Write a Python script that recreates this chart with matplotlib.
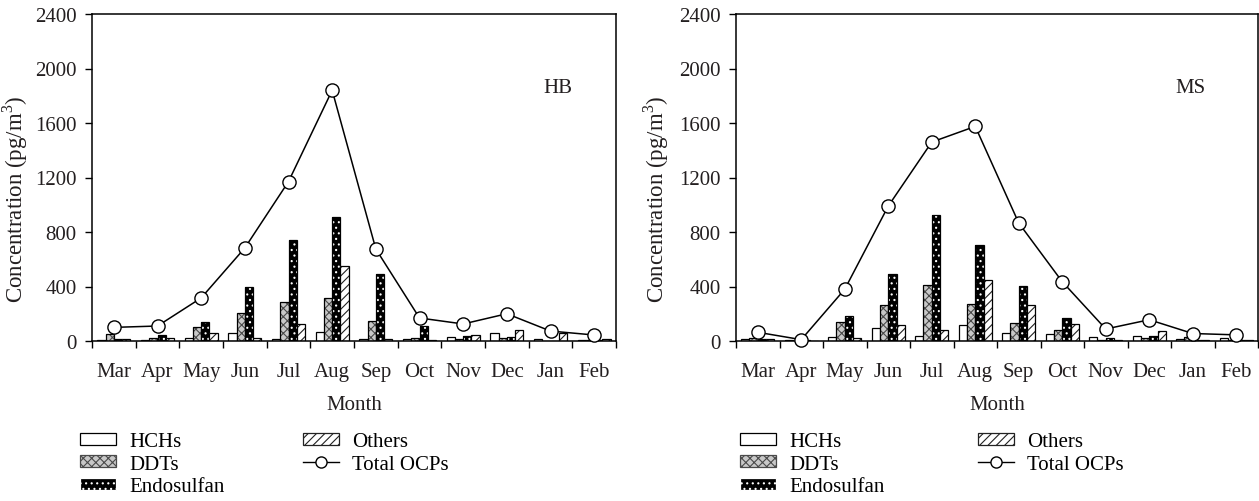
import matplotlib
matplotlib.use("Agg")
import matplotlib.pyplot as plt
from matplotlib.patches import Patch
from matplotlib.lines import Line2D
import numpy as np

plt.rcParams['font.family'] = ['Liberation Serif', 'DejaVu Serif']
plt.rcParams['mathtext.fontset'] = 'custom'
plt.rcParams['mathtext.rm'] = 'Liberation Serif'
plt.rcParams['hatch.linewidth'] = 0.8

months = ['Mar', 'Apr', 'May', 'Jun', 'Jul', 'Aug', 'Sep', 'Oct', 'Nov', 'Dec', 'Jan', 'Feb']

# HB site (pg/m3)
hb_hch = [10, 8, 24, 56, 17, 65, 17, 12, 27, 59, 17, 8]
hb_ddt = [51, 25, 100, 208, 287, 316, 145, 25, 12, 25, 3, 5]
hb_endo = [18, 44, 137, 395, 741, 910, 490, 112, 39, 30, 3, 5]
hb_others = [15, 25, 56, 20, 123, 550, 15, 8, 44, 83, 56, 16]
hb_total = [100, 110, 316, 683, 1170, 1840, 675, 169, 125, 200, 73, 44]

# MS site (pg/m3)
ms_hch = [15, 5, 32, 95, 35, 117, 60, 55, 30, 35, 15, 25]
ms_ddt = [20, 2, 140, 266, 408, 272, 130, 80, 10, 25, 30, 10]
ms_endo = [12, 10, 186, 492, 925, 705, 405, 168, 20, 40, 5, 5]
ms_others = [12, 2, 25, 115, 83, 450, 262, 125, 10, 70, 10, 10]
ms_total = [64, 10, 380, 990, 1460, 1575, 866, 435, 88, 156, 55, 45]

yticks = [0, 400, 800, 1200, 1600, 2000, 2400]
series_names = ['HCHs', 'DDTs', 'Endosulfan', 'Others']

W, H = 1259, 502
fig = plt.figure(figsize=(W / 100, H / 100), dpi=100)

FS = 15
TXT = '#231f20'
BW = 0.19

STYLES = {
    'HCHs': dict(facecolor='white', edgecolor='black', hatch=None),
    'DDTs': dict(facecolor='#c8c8c8', edgecolor='#4a4a4a', hatch='xxxx'),
    'Endosulfan': dict(facecolor='black', edgecolor='white', hatch='...'),
    'Others': dict(facecolor='white', edgecolor='#222222', hatch='////'),
}


def styled_bar(ax, x, h, kind):
    st = STYLES[kind]
    ax.bar(x, h, BW, facecolor=st['facecolor'], edgecolor=st['edgecolor'],
           hatch=st['hatch'], linewidth=0)
    ax.bar(x, h, BW, fill=False, edgecolor='black', linewidth=0.9)


def patch_handle(kind):
    st = STYLES[kind]
    return Patch(facecolor=st['facecolor'], edgecolor=st['edgecolor'], hatch=st['hatch'],
                 linewidth=0.9)


def add_legends(x_left, x_right, y_top):
    common = dict(loc='upper left', frameon=False, fontsize=FS, handlelength=1.75,
                  handleheight=0.5, handletextpad=0.6, labelspacing=0.17,
                  borderaxespad=0, borderpad=0)
    h1 = [patch_handle(k) for k in series_names[:3]]
    fig.legend(h1, series_names[:3], bbox_to_anchor=(x_left / W, 1 - y_top / H), **common)
    h2 = [patch_handle('Others'),
          Line2D([], [], color='black', lw=1, marker='o', markersize=8,
                 markerfacecolor='white', markeredgecolor='black')]
    fig.legend(h2, ['Others', 'Total OCPs'], bbox_to_anchor=(x_right / W, 1 - y_top / H), **common)


def panel(rect, data, total, tag, tag_xy, ylab_x):
    ax = fig.add_axes(rect)
    centers = np.arange(len(months)) + 0.5
    for k, (name, vals) in enumerate(zip(series_names, data)):
        styled_bar(ax, centers + (k - 1.5) * BW, vals, name)
    ax.plot(centers, total, color='black', lw=1.1, marker='o', markersize=9.5,
            markerfacecolor='white', markeredgecolor='black', markeredgewidth=1.0,
            zorder=5, clip_on=False)
    ax.set_xlim(0, 12)
    ax.set_ylim(0, 2400)
    ax.set_yticks(yticks)
    ax.set_yticklabels([str(v) for v in yticks], fontsize=FS, color=TXT)
    ax.set_xticks(np.arange(13))
    ax.set_xticklabels([])
    ax.set_xticks(centers, minor=True)
    ax.set_xticklabels(months, minor=True, fontsize=FS, color=TXT)
    ax.tick_params(axis='x', which='minor', length=0, pad=15)
    ax.tick_params(axis='x', which='major', length=5, width=1, direction='out')
    ax.tick_params(axis='y', length=5, width=1, direction='out', pad=6)
    for s in ax.spines.values():
        s.set_linewidth(1.1)
    ax.set_xlabel('Month', fontsize=FS, color=TXT, labelpad=10)
    ax.set_ylabel(r'Concentration (pg/m$^{3}$)', fontsize=16.5, color=TXT)
    ax.yaxis.set_label_coords(ylab_x, 0.435)
    ax.text(tag_xy[0], tag_xy[1], tag, transform=ax.transAxes, fontsize=FS,
            ha='left', va='center', color=TXT)
    return ax


panel([92 / W, 1 - 342 / H, 524 / W, 327 / H],
      [hb_hch, hb_ddt, hb_endo, hb_others], hb_total, 'HB', (0.862, 0.775), -0.118)
panel([736 / W, 1 - 342 / H, 522 / W, 327 / H],
      [ms_hch, ms_ddt, ms_endo, ms_others], ms_total, 'MS', (0.842, 0.775), -0.125)

add_legends(80, 303, 433)
add_legends(740, 978, 433)

fig.savefig('out.png', dpi=100)
